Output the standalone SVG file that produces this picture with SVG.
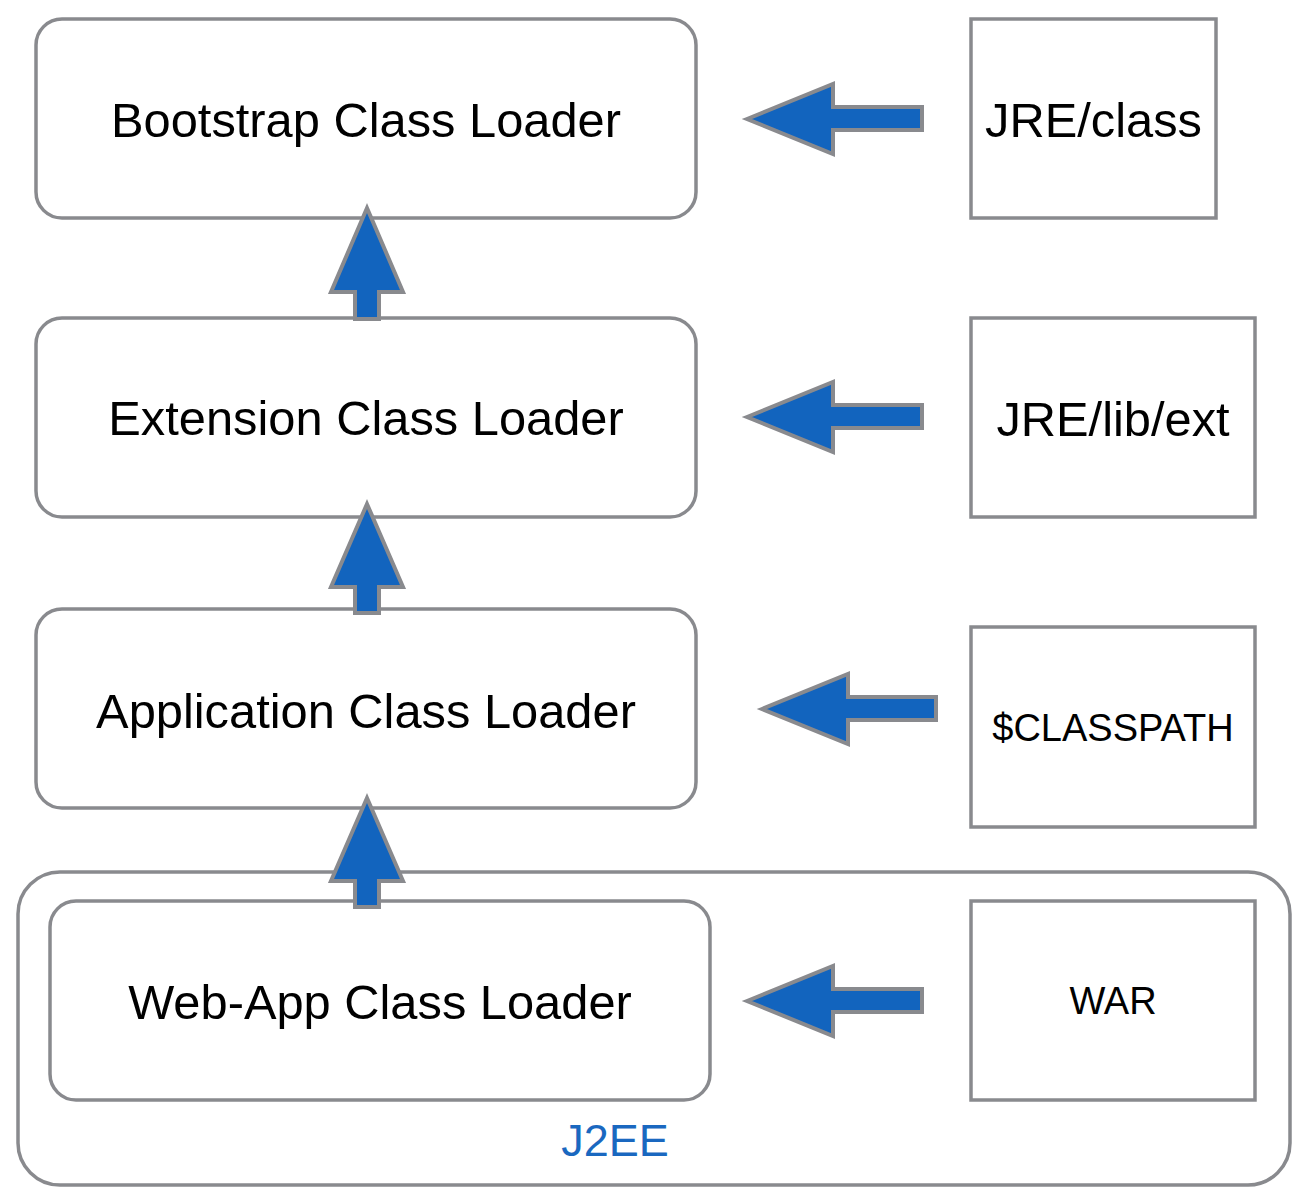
<svg xmlns="http://www.w3.org/2000/svg" width="1302" height="1196" viewBox="0 0 1302 1196">
<style>
.box{fill:#fff;stroke:#898a8e;stroke-width:3.5}
.arr{fill:#1264be;stroke:#898a8e;stroke-width:4;stroke-linejoin:miter}
.t{font-family:"Liberation Sans",Arial,sans-serif;fill:#000;text-anchor:middle}
.big{font-size:48.8px}
.mid{font-size:38px}
.lbl{font-family:"Liberation Sans",Arial,sans-serif;fill:#1a68c0;font-size:45px;text-anchor:middle}
</style>
<rect width="1302" height="1196" fill="#fff"/>
<g id="j2ee">
<rect class="box" x="18" y="872" width="1272" height="313" rx="42"/>
<text class="lbl" x="615" y="1156">J2EE</text>
</g>
<g id="bootstrap">
<rect class="box" x="36" y="19" width="660" height="199" rx="26"/>
<text class="t big" x="366" y="137">Bootstrap Class Loader</text>
</g>
<g id="extension">
<rect class="box" x="36" y="318" width="660" height="199" rx="26"/>
<text class="t big" x="366" y="435">Extension Class Loader</text>
</g>
<g id="application">
<rect class="box" x="36" y="609" width="660" height="199" rx="26"/>
<text class="t big" x="366" y="728">Application Class Loader</text>
</g>
<g id="webapp">
<rect class="box" x="50" y="901" width="660" height="199" rx="26"/>
<text class="t big" x="380" y="1019">Web-App Class Loader</text>
</g>
<g id="jreclass">
<rect class="box" x="971" y="19" width="245" height="199"/>
<text class="t big" x="1093.5" y="137">JRE/class</text>
</g>
<g id="jreext">
<rect class="box" x="971" y="318" width="284" height="199"/>
<text class="t big" x="1113" y="436">JRE/lib/ext</text>
</g>
<g id="classpath">
<rect class="box" x="971" y="627" width="284" height="200"/>
<text class="t mid" x="1113" y="741">$CLASSPATH</text>
</g>
<g id="war">
<rect class="box" x="971" y="901" width="284" height="199"/>
<text class="t mid" x="1113" y="1014">WAR</text>
</g>
<g id="connectors">
<path class="arr" d="M367 208 L403 292 L379 292 L379 319 L355 319 L355 292 L331 292 Z"/>
<path class="arr" d="M367 504 L403 587 L379 587 L379 613 L355 613 L355 587 L331 587 Z"/>
<path class="arr" d="M367 798 L403 881 L379 881 L379 907 L355 907 L355 881 L331 881 Z"/>
<path class="arr" d="M747 119 L833 84 L833 107 L922 107 L922 130 L833 130 L833 154 Z"/>
<path class="arr" d="M747 417 L833 382 L833 405 L922 405 L922 428 L833 428 L833 452 Z"/>
<path class="arr" d="M762 709 L848 674 L848 697 L936 697 L936 720 L848 720 L848 744 Z"/>
<path class="arr" d="M747 1001 L833 966 L833 989 L922 989 L922 1012 L833 1012 L833 1036 Z"/>
</g>
</svg>
